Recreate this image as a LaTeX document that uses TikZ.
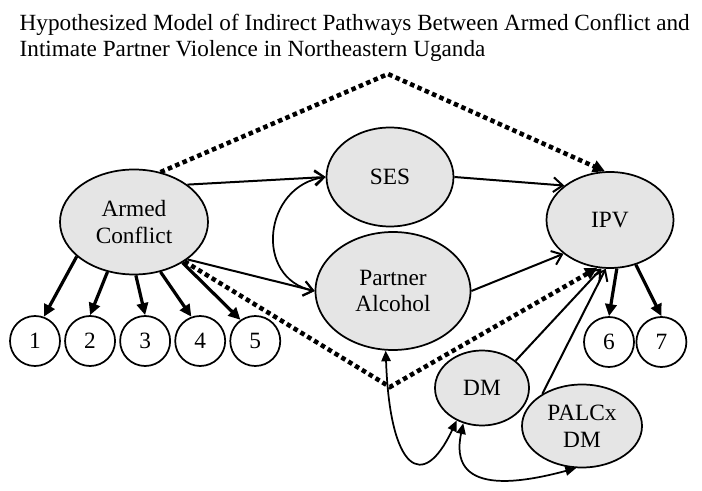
\documentclass[tikz,border=0pt]{standalone}
\usepackage{fontspec}
\setmainfont{Liberation Serif}
\usetikzlibrary{positioning, shapes.geometric, arrows.meta}

\begin{document}
\begin{tikzpicture}[
    x=0.75pt, y=-0.75pt,
    every node/.style={font=\fontsize{17.5}{20}\selectfont, align=center},
    latent/.style={draw, ellipse, line width=1.3pt, fill=black!10, inner sep=0pt},
    indicator/.style={draw, circle, line width=1.3pt, minimum size=37.5pt, inner sep=0pt},
    arrow/.style={-{Straight Barb[length=7pt,width=11pt]}, line width=1.5pt},
    thickarrow/.style={-{Triangle[length=9pt,width=8.5pt]}, line width=2.4pt},
    dotarrow/.style={-{Triangle[length=9pt,width=9pt]}, line width=3.4pt, dash pattern=on 3.4pt off 2.6pt},
    linkarrow/.style={{Triangle[length=8pt,width=7pt]}-{Triangle[length=8pt,width=7pt]}, line width=1.3pt}
    ]
    \useasboundingbox (0,0) rectangle (702,491);

    \node (title) [anchor=north west, align=left, font=\fontsize{17.4}{19.5}\selectfont] at (15,9)
        {Hypothesized Model of Indirect Pathways Between Armed Conflict and\\Intimate Partner Violence in Northeastern Uganda};

    % latent variables
    \node (ac) [latent, minimum width=111pt, minimum height=78.75pt] at (134,222) {Armed\\Conflict};
    \node (ses) [latent, minimum width=95.25pt, minimum height=74.25pt] at (390,177) {SES};
    \node (pa) [latent, minimum width=116.25pt, minimum height=88.5pt] at (393,291) {Partner\\Alcohol};
    \node (ipv) [latent, minimum width=95.25pt, minimum height=72pt] at (610,220) {IPV};
    \node (dm) [latent, minimum width=70.5pt, minimum height=56.25pt] at (482,388) {DM};
    \node (palc) [latent, minimum width=90pt, minimum height=62.25pt] at (582,426) {PALCx\\DM};

    % indicators
    \node (c1) [indicator] at (35,341) {1};
    \node (c2) [indicator, right=2.5pt of c1] {2};
    \node (c3) [indicator, right=2.5pt of c2] {3};
    \node (c4) [indicator, right=2.5pt of c3] {4};
    \node (c5) [indicator, right=2.5pt of c4] {5};
    \node (c6) [indicator] at (609,342) {6};
    \node (c7) [indicator, right=0.5pt of c6] {7};

    \coordinate (top) at (388,74);
    \coordinate (bottom) at (390,387);

    % direct paths
    \draw[dotarrow] (ac.62) -- (top) -- (ipv.96);
    \draw[dotarrow] (ac.322) -- (bottom) -- (ipv.255);

    % indirect paths
    \draw[arrow] (ac.35) -- (ses.west);
    \draw[arrow] (ac.325) -- (pa.west);
    \draw[arrow] (ses.east) -- (ipv.143);
    \draw[arrow] (pa.east) -- (ipv.216);
    \draw[arrow] (dm.39) -- (ipv.260);
    \draw[arrow] (palc.141) -- (ipv.265);
    \draw[{Straight Barb[length=7pt,width=11pt]}-{Straight Barb[length=7pt,width=11pt]}, line width=1.3pt]
        (ses.west) to[out=188, in=168, looseness=1.4] (pa.west);

    % covariances
    \draw[linkarrow] (pa.263) .. controls +(272:90pt) and +(245:60pt) .. (dm.232);
    \draw[linkarrow] (dm.242) .. controls +(258:55pt) and +(195:45pt) .. (palc.262);

    % measurement arrows
    \draw[thickarrow] (ac.211) -- (c1.70);
    \draw[thickarrow] (ac.242) -- (c2.north);
    \draw[thickarrow] (ac.272) -- (c3.north);
    \draw[thickarrow] (ac.298) -- (c4.110);
    \draw[thickarrow] (ac.320) -- (c5.125);
    \draw[thickarrow] (ipv.278) -- (c6.north);
    \draw[thickarrow] (ipv.300) -- (c7.north);
\end{tikzpicture}
\end{document}
